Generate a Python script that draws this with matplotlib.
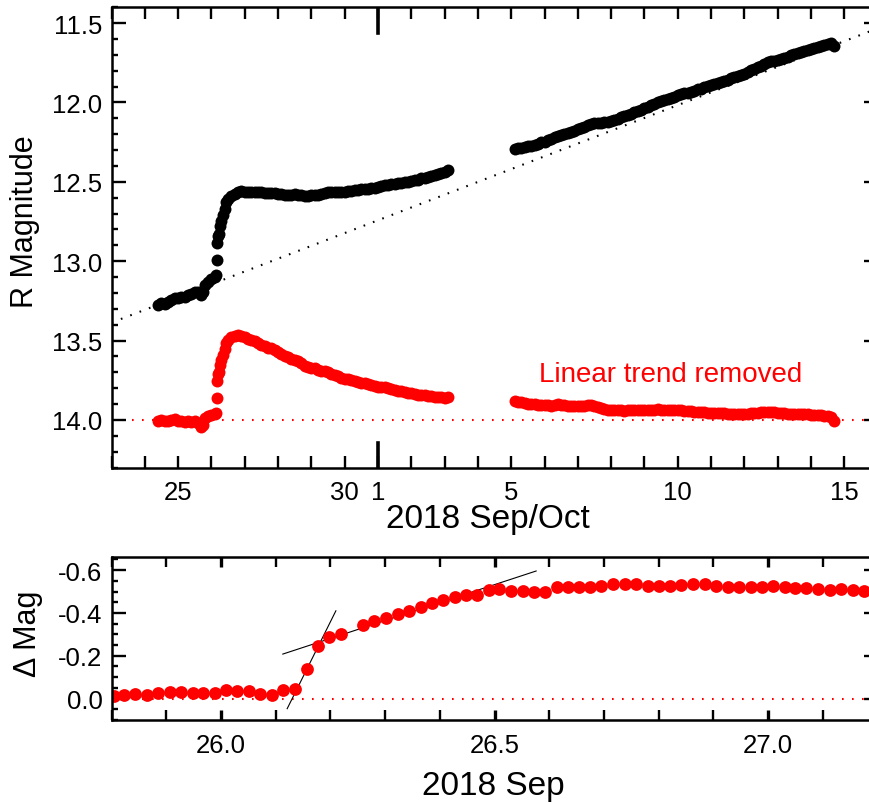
import matplotlib
matplotlib.use('Agg')
import matplotlib.pyplot as plt
from matplotlib.ticker import FixedLocator, MultipleLocator, FormatStrFormatter

plt.rcParams['font.family'] = ['Liberation Sans', 'DejaVu Sans']

### Data (days counted from 2018 Sep 0; Oct 1 = day 31)

# first observing run, before the gap
seg1_days = [24.4, 24.5, 24.6, 24.7, 24.8, 24.9, 25.0, 25.1, 25.2, 25.3,
             25.4, 25.5, 25.6, 25.7, 25.75, 25.8, 25.9, 26.0, 26.1,
             26.136, 26.157, 26.177, 26.198, 26.219, 26.26, 26.3, 26.35, 26.4, 26.45,
             26.5, 26.6, 26.7, 26.8, 26.9, 27.0,
             27.1, 27.2, 27.3, 27.4, 27.5, 27.6, 27.7, 27.8, 27.9, 28.0,
             28.1, 28.2, 28.3, 28.4, 28.5, 28.6, 28.7, 28.8, 28.9, 29.0,
             29.1, 29.2, 29.3, 29.4, 29.5, 29.6, 29.7, 29.8, 29.9, 30.0,
             30.1, 30.2, 30.3, 30.4, 30.5, 30.6, 30.7, 30.8, 30.9, 31.0,
             31.1, 31.2, 31.3, 31.4, 31.5, 31.6, 31.7, 31.8, 31.9, 32.0,
             32.1, 32.2, 32.3, 32.4, 32.5, 32.6, 32.7, 32.8, 32.9, 33.0,
             33.1]
seg1_mag = [13.279, 13.266, 13.268, 13.255, 13.242, 13.229, 13.231, 13.228, 13.225, 13.212,
            13.209, 13.195, 13.197, 13.214, 13.195, 13.151, 13.128, 13.115, 13.102,
            13.090, 12.995, 12.886, 12.842, 12.826, 12.779, 12.744, 12.707, 12.668, 12.624,
            12.605, 12.590, 12.575, 12.563, 12.560, 12.562,
            12.564, 12.562, 12.564, 12.566, 12.567, 12.569, 12.571, 12.568, 12.570, 12.576,
            12.578, 12.580, 12.581, 12.583, 12.579, 12.580, 12.582, 12.592, 12.588, 12.584,
            12.580, 12.580, 12.575, 12.571, 12.567, 12.567, 12.563, 12.564, 12.566, 12.563,
            12.560, 12.557, 12.554, 12.551, 12.548, 12.545, 12.542, 12.539, 12.536, 12.532,
            12.524, 12.521, 12.518, 12.515, 12.512, 12.509, 12.506, 12.503, 12.500, 12.492,
            12.489, 12.486, 12.478, 12.475, 12.471, 12.463, 12.460, 12.452, 12.444, 12.441,
            12.428]
seg1_detrended = [14.005, 14.000, 14.010, 14.005, 14.000, 13.995, 14.005, 14.010, 14.015, 14.010,
                  14.015, 14.010, 14.020, 14.045, 14.030, 13.990, 13.975, 13.970, 13.965,
                  13.956, 13.862, 13.755, 13.713, 13.698, 13.655, 13.623, 13.590, 13.555, 13.515,
                  13.495, 13.480, 13.470, 13.465, 13.470, 13.480,
                  13.490, 13.495, 13.505, 13.515, 13.525, 13.535, 13.545, 13.550, 13.560, 13.575,
                  13.585, 13.595, 13.605, 13.615, 13.620, 13.630, 13.640, 13.660, 13.665, 13.670,
                  13.675, 13.685, 13.690, 13.695, 13.700, 13.710, 13.715, 13.725, 13.735, 13.740,
                  13.745, 13.750, 13.755, 13.760, 13.765, 13.770, 13.775, 13.780, 13.785, 13.790,
                  13.790, 13.795, 13.800, 13.805, 13.810, 13.815, 13.820, 13.825, 13.830, 13.830,
                  13.835, 13.840, 13.840, 13.845, 13.850, 13.850, 13.855, 13.855, 13.855, 13.860,
                  13.855]

# second observing run, after the gap
seg2_days = [35.1, 35.2, 35.3, 35.4, 35.5, 35.6, 35.7, 35.8, 35.9, 36.0,
             36.1, 36.2, 36.3, 36.4, 36.5, 36.6, 36.7, 36.8, 36.9, 37.0,
             37.1, 37.2, 37.3, 37.4, 37.5, 37.6, 37.7, 37.8, 37.9, 38.0,
             38.1, 38.2, 38.3, 38.4, 38.5, 38.6, 38.7, 38.8, 38.9, 39.0,
             39.1, 39.2, 39.3, 39.4, 39.5, 39.6, 39.7, 39.8, 39.9, 40.0,
             40.1, 40.2, 40.3, 40.4, 40.5, 40.6, 40.7, 40.8, 40.9, 41.0,
             41.1, 41.2, 41.3, 41.4, 41.5, 41.6, 41.7, 41.8, 41.9, 42.0,
             42.1, 42.2, 42.3, 42.4, 42.5, 42.6, 42.7, 42.8, 42.9, 43.0,
             43.1, 43.2, 43.3, 43.4, 43.5, 43.6, 43.7, 43.8, 43.9, 44.0,
             44.1, 44.2, 44.3, 44.4, 44.5, 44.6, 44.7]
seg2_mag = [12.292, 12.289, 12.286, 12.281, 12.277, 12.272, 12.265, 12.260, 12.252, 12.246,
            12.239, 12.233, 12.220, 12.210, 12.204, 12.199, 12.193, 12.187, 12.177, 12.169,
            12.163, 12.153, 12.139, 12.134, 12.130, 12.128, 12.127, 12.124, 12.121, 12.116,
            12.110, 12.102, 12.094, 12.088, 12.078, 12.070, 12.060, 12.054, 12.046, 12.035,
            12.026, 12.016, 12.008, 11.998, 11.992, 11.986, 11.976, 11.970, 11.965, 11.955,
            11.949, 11.943, 11.938, 11.932, 11.925, 11.918, 11.912, 11.905, 11.899, 11.891,
            11.885, 11.878, 11.869, 11.862, 11.856, 11.848, 11.842, 11.832, 11.826, 11.818,
            11.808, 11.797, 11.788, 11.778, 11.767, 11.757, 11.747, 11.741, 11.736, 11.730,
            11.724, 11.717, 11.711, 11.703, 11.697, 11.690, 11.682, 11.675, 11.667, 11.661,
            11.654, 11.648, 11.642, 11.635, 11.629, 11.626, 11.643]
seg2_detrended = [13.880, 13.885, 13.890, 13.893, 13.897, 13.900, 13.902, 13.905, 13.905, 13.907,
                  13.908, 13.910, 13.905, 13.903, 13.905, 13.908, 13.910, 13.912, 13.910, 13.910,
                  13.912, 13.910, 13.905, 13.908, 13.912, 13.918, 13.925, 13.930, 13.935, 13.938,
                  13.940, 13.940, 13.940, 13.942, 13.940, 13.940, 13.938, 13.940, 13.940, 13.938,
                  13.937, 13.935, 13.935, 13.933, 13.935, 13.937, 13.935, 13.937, 13.940, 13.938,
                  13.940, 13.942, 13.945, 13.947, 13.948, 13.950, 13.952, 13.953, 13.955, 13.955,
                  13.957, 13.958, 13.957, 13.958, 13.960, 13.960, 13.962, 13.960, 13.962, 13.962,
                  13.960, 13.958, 13.957, 13.955, 13.952, 13.950, 13.948, 13.950, 13.953, 13.955,
                  13.957, 13.958, 13.960, 13.960, 13.962, 13.963, 13.963, 13.965, 13.965, 13.967,
                  13.968, 13.970, 13.972, 13.973, 13.975, 13.980, 14.005]

# linear trend (end points) and the level it was removed to
trend_days = [23.0, 46.0]
trend_mag = [13.387, 11.533]
detrend_level = 14.0

# zoom on the rise, 30 min cadence
zoom_days = [25.805, 25.823, 25.843, 25.864, 25.885, 25.906, 25.927, 25.948, 25.968, 25.989,
             26.009, 26.030, 26.052, 26.072, 26.093, 26.113, 26.136, 26.157, 26.177, 26.198,
             26.219, 26.259, 26.280, 26.302, 26.323, 26.344, 26.365, 26.385, 26.405, 26.427,
             26.448, 26.468, 26.489, 26.509, 26.530, 26.552, 26.573, 26.593, 26.614, 26.634,
             26.654, 26.675, 26.695, 26.716, 26.738, 26.759, 26.780, 26.800, 26.821, 26.841,
             26.863, 26.884, 26.905, 26.926, 26.947, 26.968, 26.988, 27.009, 27.030, 27.050,
             27.070, 27.091, 27.113, 27.134, 27.155, 27.176]
zoom_dmag = [-0.012, -0.016, -0.020, -0.016, -0.028, -0.030, -0.030, -0.025, -0.028, -0.028,
             -0.039, -0.035, -0.035, -0.022, -0.017, -0.039, -0.044, -0.139, -0.245, -0.287,
             -0.302, -0.345, -0.364, -0.377, -0.394, -0.407, -0.429, -0.446, -0.460, -0.473,
             -0.484, -0.482, -0.507, -0.512, -0.504, -0.501, -0.500, -0.498, -0.519, -0.522,
             -0.523, -0.523, -0.528, -0.533, -0.536, -0.533, -0.528, -0.528, -0.528, -0.530,
             -0.536, -0.533, -0.528, -0.523, -0.520, -0.520, -0.520, -0.525, -0.520, -0.517,
             -0.517, -0.512, -0.507, -0.512, -0.507, -0.504]

# tangent lines drawn on the rise
steep_days = [26.121, 26.210]
steep_dmag = [0.047, -0.410]
shallow_days = [26.113, 26.576]
shallow_dmag = [-0.208, -0.596]

# axis ticks
day_ticks = [25, 30, 31, 35, 40, 45]
day_labels = ['25', '30', '1', '5', '10', '15']
month_start = 31
mag_ticks = [11.5, 12.0, 12.5, 13.0, 13.5, 14.0]
dmag_ticks = [-0.6, -0.4, -0.2, 0.0]
zoom_ticks = [26.0, 26.5, 27.0]

### Figure

fig = plt.figure(figsize=(8.7, 8.04), dpi=100)
ax1 = fig.add_axes([0.1282, 0.4163, 0.8805, 0.5734])
ax2 = fig.add_axes([0.1282, 0.1032, 0.8805, 0.2024])

dot = dict(linestyle=(0, (0.8, 4.0)), linewidth=1.5)
tick_size = 18.5

## top panel
ax1.plot(trend_days, trend_mag, color='black', zorder=1, **dot)
ax1.axhline(detrend_level, color='red', zorder=1, **dot)
ax1.plot(seg1_days, seg1_mag, 'o', color='black', ms=8.6, mec='none', zorder=2)
ax1.plot(seg2_days, seg2_mag, 'o', color='black', ms=8.6, mec='none', zorder=2)
ax1.plot(seg1_days, seg1_detrended, 'o', color='red', ms=8.6, mec='none', zorder=2)
ax1.plot(seg2_days, seg2_detrended, 'o', color='red', ms=8.6, mec='none', zorder=2)
ax1.text(39.8, 13.755, 'Linear trend removed', color='red', fontsize=20,
         ha='center', va='baseline')

ax1.set_xlim(23, 46)
ax1.set_ylim(14.305, 11.40)

ax1.xaxis.set_major_locator(FixedLocator(day_ticks))
ax1.set_xticklabels(day_labels)
ax1.xaxis.set_minor_locator(MultipleLocator(1))
ax1.yaxis.set_major_locator(FixedLocator(mag_ticks))
ax1.yaxis.set_major_formatter(FormatStrFormatter('%.1f'))
ax1.yaxis.set_minor_locator(MultipleLocator(0.1))

ax1.tick_params(axis='x', which='both', direction='in', top=True, bottom=True,
                length=8.5, width=1.7, labelsize=tick_size, pad=8.5)
ax1.tick_params(axis='y', which='major', direction='in', left=True, right=True,
                length=10, width=1.7, labelsize=tick_size, pad=6.5)
ax1.tick_params(axis='y', which='minor', direction='in', left=True, right=True,
                length=4.5, width=1.7)

# longer tick marking the month boundary
ax1.axvline(month_start, ymin=0, ymax=0.055, color='black', lw=2.6)
ax1.axvline(month_start, ymin=0.945, ymax=1, color='black', lw=2.6)

ax1.set_xlabel('2018 Sep/Oct', fontsize=24, va='top')
ax1.xaxis.set_label_coords(0.4915, -0.075)
ax1.set_ylabel('R Magnitude', fontsize=22)
ax1.yaxis.set_label_coords(-0.093, 0.5375)

## bottom panel
ax2.axhline(0.0, color='red', zorder=1, **dot)
ax2.plot(steep_days, steep_dmag, color='black', lw=0.8, zorder=1)
ax2.plot(shallow_days, shallow_dmag, color='black', lw=0.8, zorder=1)
ax2.plot(zoom_days, zoom_dmag, 'o', color='red', ms=9.2, mec='none', zorder=2)

ax2.set_xlim(25.8, 27.2)
ax2.set_ylim(0.1, -0.66)

ax2.xaxis.set_major_locator(FixedLocator(zoom_ticks))
ax2.xaxis.set_major_formatter(FormatStrFormatter('%.1f'))
ax2.xaxis.set_minor_locator(MultipleLocator(0.1))
ax2.yaxis.set_major_locator(FixedLocator(dmag_ticks))
ax2.yaxis.set_major_formatter(FormatStrFormatter('%.1f'))
ax2.yaxis.set_minor_locator(MultipleLocator(0.05))

ax2.tick_params(axis='x', which='major', direction='in', top=True, bottom=True,
                length=7.5, width=2.4, labelsize=tick_size, pad=9.5)
ax2.tick_params(axis='x', which='minor', direction='in', top=True, bottom=True,
                length=7.5, width=1.7)
ax2.tick_params(axis='y', which='major', direction='in', left=True, right=True,
                length=10, width=1.7, labelsize=tick_size, pad=6.5)
ax2.tick_params(axis='y', which='minor', direction='in', left=True, right=True,
                length=4.5, width=1.7)

ax2.set_xlabel('2018 Sep', fontsize=24, va='top')
ax2.xaxis.set_label_coords(0.498, -0.31)
ax2.set_ylabel('Δ Mag', fontsize=22)
ax2.yaxis.set_label_coords(-0.09, 0.535)

for ax in (ax1, ax2):
    for side in ax.spines.values():
        side.set_linewidth(1.8)

fig.savefig('out.png', dpi=100)
plt.close(fig)
